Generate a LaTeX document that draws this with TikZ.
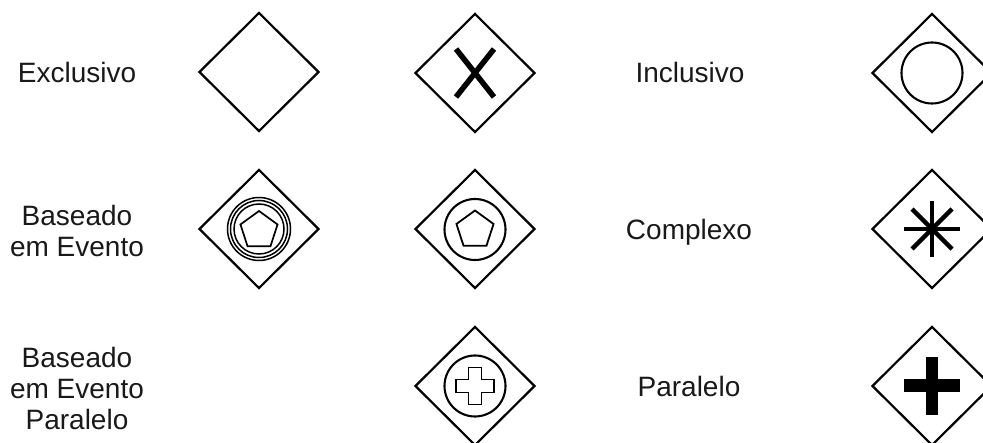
\documentclass[tikz,border=0pt]{standalone}
\usepackage{fontspec}
\setmainfont{Liberation Sans}
\usetikzlibrary{shapes.geometric}
\begin{document}
\begin{tikzpicture}[x=1pt,y=-1pt,
  gateway/.style={draw=black, diamond, line width=2.2pt, minimum width=120pt, minimum height=119pt, inner sep=0pt},
  txt/.style={font=\fontsize{28}{31}\selectfont, align=center, text=black!90, inner sep=0pt},
  thin/.style={draw=black, line width=2.1pt},
  evring/.style={draw=black, line width=1.5pt},
  xstroke/.style={draw=black, line width=5.5pt},
  star/.style={draw=black, line width=4.5pt}]
\clip (0,0) rectangle (983,443);
\useasboundingbox (0,0) rectangle (983,443);

% labels
\node[txt, anchor=base] (lex) at (77,83) {Exclusivo};
\node[txt, anchor=base] (lin) at (690,83) {Inclusivo};
\node[txt, anchor=north] (lbe) at (77,205) {Baseado\\em Evento};
\node[txt, anchor=base] (lco) at (689,240) {Complexo};
\node[txt, anchor=north] (lbp) at (77,347) {Baseado\\em Evento\\Paralelo};
\node[txt, anchor=base] (lpa) at (689,397) {Paralelo};

% gateways
\node[gateway] (g1) at (259,72) {};
\node[gateway] (g2) at (475,73) {};
\node[gateway] (g3) at (932,73) {};
\node[gateway] (g4) at (259,229) {};
\node[gateway] (g5) at (475,229) {};
\node[gateway] (g6) at (932,229) {};
\node[gateway] (g7) at (475,386) {};
\node[gateway] (g8) at (932,386) {};

% exclusive X
\begin{scope}[shift={(g2.center)}]
  \draw[xstroke] (-19,-24) -- (19,24);
  \draw[xstroke] (-19,24) -- (19,-24);
\end{scope}

% inclusive circle
\draw[thin] (g3.center) circle[radius=30.5];

% event-based
\begin{scope}[shift={(g4.center)}]
  \draw[evring] (0,0) circle[radius=31.5];
  \draw[evring] (0,0) circle[radius=28.5];
  \draw[evring] (0,0) circle[radius=25];
  \begin{scope}[shift={(0,1.5)}]
    \draw[thin, line width=1.7pt] (-90:19.5) -- (-18:19.5) -- (54:19.5) -- (126:19.5) -- (198:19.5) -- cycle;
  \end{scope}
\end{scope}

% event-based exclusive
\begin{scope}[shift={(g5.center)}]
  \draw[thin] (0,0.5) circle[radius=30.5];
  \begin{scope}[shift={(0,1)}]
    \draw[thin, line width=1.8pt] (-90:19.5) -- (-18:19.5) -- (54:19.5) -- (126:19.5) -- (198:19.5) -- cycle;
  \end{scope}
\end{scope}

% complex asterisk
\begin{scope}[shift={(g6.center)}]
  \draw[star] (-28,0) -- (28,0);
  \draw[star] (0,-28) -- (0,28);
  \draw[star] (-20,-20) -- (20,20);
  \draw[star] (-20,20) -- (20,-20);
\end{scope}

% parallel event-based
\begin{scope}[shift={(g7.center)}]
  \draw[thin] (0,0) circle[radius=30.5];
  \draw[thin, line width=1.8pt] (-6.5,-18.5) -- (6.5,-18.5) -- (6.5,-6.5) -- (19,-6.5) -- (19,6.5) -- (6.5,6.5) -- (6.5,18.5) -- (-6.5,18.5) -- (-6.5,6.5) -- (-19,6.5) -- (-19,-6.5) -- (-6.5,-6.5) -- cycle;
\end{scope}

% parallel
\begin{scope}[shift={(g8.center)}]
  \fill[black] (-28,-6.5) rectangle (28,6.5);
  \fill[black] (-6.3,-29) rectangle (6.3,29);
\end{scope}

\end{tikzpicture}
\end{document}
